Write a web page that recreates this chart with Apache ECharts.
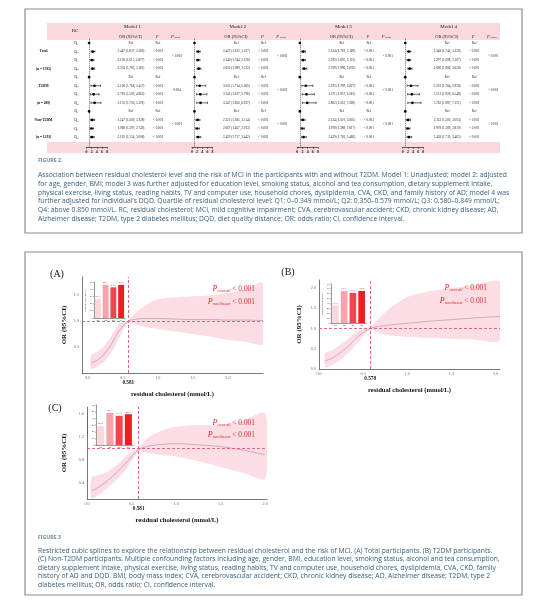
<!DOCTYPE html>
<html>
<head>
<meta charset="utf-8">
<title>Residual cholesterol and MCI</title>
<script src="https://cdn.jsdelivr.net/npm/echarts@6.0.0/dist/echarts.min.js"></script>
<style>
  html, body { margin: 0; padding: 0; background: #fff; }
  #chart { width: 540px; height: 605px; }
</style>
</head>
<body>
<div id="chart"></div>
<script>
// ---------- Figure 2 : forest plot ----------
var groupNames = ['Total', 'T2DM', 'Non-T2DM'];
var groupSizes = ['(n = 1782)', '(n = 489)', '(n = 1293)'];
var quartiles = ['1', '2', '3', '4'];
var modelNames = ['Model 1', 'Model 2', 'Model 3', 'Model 4'];
var forestTicks = [0, 2, 4, 6, 8];

// rows: Total Q1-Q4, T2DM Q1-Q4, Non-T2DM Q1-Q4 (Q1 is the reference)
var m1OR = [1, 2.447, 2.156, 2.374, 1, 3.106, 2.783, 3.133, 1, 2.247, 1.968, 2.162];
var m1Lo = [1, 1.837, 1.615, 1.783, 1, 1.768, 1.592, 1.756, 1, 1.609, 1.397, 1.554];
var m1Hi = [1, 3.260, 2.877, 3.161, 1, 5.457, 4.865, 5.591, 1, 3.138, 2.749, 3.008];
var m2OR = [1, 2.422, 2.340, 2.650, 1, 3.031, 3.245, 3.347, 1, 2.221, 2.067, 2.459];
var m2Lo = [1, 1.812, 1.744, 1.989, 1, 1.714, 1.817, 1.856, 1, 1.585, 1.467, 1.757];
var m2Hi = [1, 3.237, 3.138, 3.532, 1, 5.360, 5.796, 6.037, 1, 3.114, 2.913, 3.442];
var m3OR = [1, 2.334, 2.293, 2.709, 1, 3.293, 3.571, 3.862, 1, 2.124, 1.978, 2.439];
var m3Lo = [1, 1.718, 1.695, 1.996, 1, 1.799, 1.937, 2.052, 1, 1.501, 1.388, 1.716];
var m3Hi = [1, 3.169, 3.101, 3.676, 1, 6.027, 6.581, 7.269, 1, 3.005, 2.817, 3.466];
var m4OR = [1, 2.346, 2.297, 2.696, 1, 3.233, 3.551, 3.762, 1, 2.123, 1.978, 2.438];
var m4Lo = [1, 1.742, 1.698, 1.986, 1, 1.764, 1.926, 1.987, 1, 1.500, 1.389, 1.715];
var m4Hi = [1, 3.159, 3.107, 3.658, 1, 5.928, 6.548, 7.121, 1, 3.003, 2.819, 3.465];
var pRow = ['Ref', '< 0.001', '< 0.001', '< 0.001', 'Ref', '< 0.001', '< 0.001', '< 0.001', 'Ref', '< 0.001', '< 0.001', '< 0.001'];
var m1Trend = ['< 0.001', '0.004', '< 0.001'];
var m2Trend = ['< 0.001', '< 0.001', '< 0.001'];
var m3Trend = ['< 0.001', '< 0.001', '< 0.001'];
var m4Trend = ['< 0.001', '< 0.001', '< 0.001'];

// ---------- Figure 3 : restricted cubic splines ----------
// (A) total
var rcA = [0.05, 0.15, 0.25, 0.35, 0.45, 0.581, 0.7, 0.85, 1.0, 1.25, 1.5, 1.75, 2.0, 2.25, 2.5];
var orA = [0.19, 0.26, 0.38, 0.58, 0.82, 1.00, 1.04, 1.05, 1.05, 1.04, 1.03, 1.03, 1.02, 1.02, 1.01];
var loA = [0.08, 0.13, 0.24, 0.42, 0.68, 0.98, 0.93, 0.88, 0.85, 0.80, 0.75, 0.70, 0.64, 0.60, 0.56];
var hiA = [0.34, 0.42, 0.54, 0.74, 0.95, 1.02, 1.18, 1.33, 1.42, 1.46, 1.48, 1.50, 1.54, 1.62, 1.74];
var cutA = 0.581;
var prevA = [26.3, 46.1, 42.6, 45.9];
var xTicksA = [0, 0.5, 1.0, 1.5, 2.0];
var yTicksA = [0.5, 1.0, 1.5];
// (B) T2DM
var rcB = [0.07, 0.15, 0.25, 0.35, 0.45, 0.578, 0.7, 0.85, 1.0, 1.25, 1.5, 1.75, 2.05];
var orB = [0.20, 0.27, 0.42, 0.60, 0.82, 1.00, 1.06, 1.10, 1.13, 1.18, 1.22, 1.26, 1.30];
var loB = [0.04, 0.10, 0.24, 0.43, 0.68, 0.97, 0.88, 0.82, 0.80, 0.77, 0.74, 0.73, 0.71];
var hiB = [0.40, 0.46, 0.62, 0.78, 0.95, 1.03, 1.30, 1.58, 1.78, 1.92, 2.00, 2.07, 2.15];
var cutB = 0.578;
var prevB = [35.9, 65.3, 61.5, 65.8];
var xTicksB = [0, 0.5, 1.0, 1.5, 2.0];
var yTicksB = [0, 0.5, 1.0, 1.5, 2.0];
// (C) non-T2DM
var rcC = [0.05, 0.15, 0.25, 0.35, 0.45, 0.581, 0.7, 0.85, 1.0, 1.25, 1.5, 1.75, 2.0];
var orC = [0.27, 0.35, 0.47, 0.61, 0.77, 0.98, 1.04, 1.07, 1.08, 1.06, 1.03, 0.97, 0.89];
var loC = [0.14, 0.22, 0.35, 0.49, 0.66, 0.94, 0.92, 0.88, 0.86, 0.78, 0.68, 0.58, 0.48];
var hiC = [0.49, 0.55, 0.62, 0.73, 0.88, 1.02, 1.20, 1.31, 1.37, 1.40, 1.40, 1.48, 1.60];
var cutC = 0.581;
var prevC = [28.2, 48.3, 43.8, 46.1];
var xTicksC = [0, 0.5, 1.0, 1.5, 2.0];
var yTicksC = [0.4, 0.8, 1.2, 1.6];
var insetCats = ['Q1', 'Q2', 'Q3', 'Q4'];

var SERIF = '"Liberation Serif", "DejaVu Serif", serif';
var SANS = '"Open Sans", "Noto Sans", sans-serif';
var RED = '#e3262f';
var PINK = '#f9d8de';
var barColors = ['#fbd6da', '#f6a3a9', '#f1444c', '#ee1c1e'];

var chart = echarts.init(document.getElementById('chart'));

// x pixel of the "0" of each small forest axis
var forestLeft = [86.5, 191.9, 297.3, 402.7];

function forestSeries(k, OR, LO, HI, trend) {
  return {
    type: 'custom',
    xAxisIndex: k,
    yAxisIndex: k,
    clip: false,
    encode: { x: 0, y: 1 },
    data: OR.map(function (v, i) { return [v, i, LO[i], HI[i]]; }),
    markLine: {
      silent: true, symbol: 'none', label: { show: false },
      lineStyle: { color: '#000', type: [1, 1], width: 0.6 },
      data: [{ xAxis: 1 }]
    },
    renderItem: function (params, api) {
      var i = api.value(1);
      var p = api.coord([api.value(0), i]);
      var a = api.coord([api.value(2), i]);
      var b = api.coord([api.value(3), i]);
      var x0 = api.coord([0, i])[0];
      var ref = i % 4 === 0;
      var kids = [];
      if (!ref) {
        var ln = { stroke: '#000', lineWidth: 0.6 };
        kids.push({ type: 'line', shape: { x1: a[0], y1: a[1], x2: b[0], y2: b[1] }, style: ln });
        kids.push({ type: 'line', shape: { x1: a[0], y1: a[1] - 1.1, x2: a[0], y2: a[1] + 1.1 }, style: ln });
        kids.push({ type: 'line', shape: { x1: b[0], y1: b[1] - 1.1, x2: b[0], y2: b[1] + 1.1 }, style: ln });
      }
      kids.push({ type: 'circle', shape: { cx: p[0], cy: p[1], r: 1.35 }, style: { fill: '#000' } });
      var orTxt = ref ? 'Ref' : api.value(0).toFixed(3) + ' (' + api.value(2).toFixed(3) + ', ' + api.value(3).toFixed(3) + ')';
      var txt = { align: 'center', verticalAlign: 'middle', fontFamily: SERIF, fontSize: 3.3, fill: '#222' };
      kids.push({ type: 'text', style: echarts.util.extend({ text: orTxt, x: x0 + 44.5, y: p[1] }, txt) });
      kids.push({ type: 'text', style: echarts.util.extend({ text: pRow[i], x: x0 + 71.5, y: p[1] }, txt) });
      if (i % 4 === 1) {
        var mid = api.coord([0, i + 0.5])[1];
        kids.push({ type: 'text', style: echarts.util.extend({ text: trend[(i - 1) / 4], x: x0 + 90.5, y: mid }, txt) });
      }
      if (k === 0) {
        kids.push({ type: 'text', style: {
          text: '{q|Q}{s|' + quartiles[i % 4] + '}', x: x0 - 10, y: p[1], align: 'center', verticalAlign: 'middle',
          rich: { q: { fontFamily: SERIF, fontSize: 4.2, fill: '#222' }, s: { fontFamily: SERIF, fontSize: 2.6, fill: '#222', padding: [2, 0, 0, 0] } }
        } });
        var bold = { align: 'center', verticalAlign: 'middle', fontFamily: SERIF, fontSize: 3.6, fontWeight: 'bold', fill: '#111' };
        if (i % 4 === 1) {
          kids.push({ type: 'text', style: echarts.util.extend({ text: groupNames[(i - 1) / 4], x: x0 - 43, y: p[1] }, bold) });
        }
        if (i % 4 === 3) {
          kids.push({ type: 'text', style: echarts.util.extend({ text: groupSizes[(i - 3) / 4], x: x0 - 43, y: p[1] }, bold) });
        }
      }
      return { type: 'group', children: kids };
    }
  };
}

function pick(list) {
  return function (v) {
    for (var i = 0; i < list.length; i++) {
      if (Math.abs(list[i] - v) < 1e-6) return list[i].toFixed(1);
    }
    return '';
  };
}

function splineX(g, min, max, step, ticks) {
  return {
    gridIndex: g, type: 'value', min: min, max: max, interval: step,
    axisLine: { onZero: false, lineStyle: { color: '#555', width: 0.8 } },
    axisTick: { show: false }, splitLine: { show: false },
    axisLabel: { fontSize: 4.2, color: '#666', fontFamily: SERIF, margin: 3, formatter: pick(ticks) },
    name: 'residual cholesterol (mmol/L)', nameLocation: 'middle', nameGap: 18,
    nameTextStyle: { fontFamily: SERIF, fontWeight: 'bold', fontSize: 6.6, color: '#111' }
  };
}
function splineY(g, min, max, step, ticks, gap) {
  return {
    gridIndex: g, type: 'value', min: min, max: max, interval: step,
    axisLine: { show: true, onZero: false, lineStyle: { color: '#555', width: 0.8 } },
    axisTick: { show: false }, splitLine: { show: false },
    axisLabel: { fontSize: 4.2, color: '#666', fontFamily: SERIF, margin: 3, formatter: pick(ticks) },
    name: 'OR (95%CI)', nameLocation: 'middle', nameGap: gap,
    nameTextStyle: { fontFamily: SERIF, fontWeight: 'bold', fontSize: 7, color: '#111' }
  };
}
function splineSeries(ax, rc, or, lo, hi, cut, cutLabel) {
  return [
    // confidence band: one polygon, upper edge then lower edge, through the axis scales
    { type: 'custom', xAxisIndex: ax, yAxisIndex: ax, silent: true, clip: true,
      encode: { x: 0, y: [1, 2] },
      data: rc.map(function (x, i) { return [x, lo[i], hi[i]]; }),
      renderItem: function (params, api) {
        if (params.dataIndex !== 0) return null;
        var pts = [];
        for (var i = 0; i < rc.length; i++) pts.push(api.coord([rc[i], hi[i]]));
        for (var j = rc.length - 1; j >= 0; j--) pts.push(api.coord([rc[j], lo[j]]));
        return { type: 'polygon', shape: { points: pts, smooth: 0.25 }, style: { fill: '#fbdde3' } };
      } },
    { type: 'line', xAxisIndex: ax, yAxisIndex: ax, smooth: 0.3, symbol: 'none', silent: true,
      lineStyle: { color: '#c39ab3', width: 0.8 },
      data: rc.map(function (x, i) { return [x, or[i]]; }),
      markLine: {
        silent: true, symbol: 'none',
        lineStyle: { color: '#e0647b', type: [3, 2], width: 1 },
        data: [
          { yAxis: 1, label: { show: false } },
          { xAxis: cut, label: { show: true, position: 'start', formatter: cutLabel, distance: 7,
            fontFamily: SERIF, fontWeight: 'bold', fontSize: 5.2, color: '#111' } }
        ]
      } }
  ];
}
function insetX(g) {
  return {
    gridIndex: g, type: 'category', data: insetCats,
    axisLine: { lineStyle: { color: '#333', width: 0.5 } },
    axisTick: { length: 1, lineStyle: { width: 0.4 } },
    axisLabel: { fontSize: 2, margin: 1.5, color: '#333' }
  };
}
function insetY(g, max, step) {
  return {
    gridIndex: g, type: 'value', min: 0, max: max, interval: step,
    axisLine: { show: true, lineStyle: { color: '#333', width: 0.5 } },
    axisTick: { show: true, length: 1, lineStyle: { width: 0.4 } },
    splitLine: { show: false },
    axisLabel: { fontSize: 2.2, margin: 1.5, color: '#333' },
    name: 'Prevalence of MCI (%)', nameLocation: 'middle', nameGap: 5,
    nameTextStyle: { fontSize: 2.3, color: '#333' }
  };
}
function insetBars(ax, vals) {
  return {
    type: 'bar', xAxisIndex: ax, yAxisIndex: ax, barWidth: '76%', silent: true, z: 5,
    data: vals.map(function (v, i) { return { value: v, itemStyle: { color: barColors[i] } }; }),
    label: { show: true, position: 'top', distance: 1, fontSize: 2.9, color: RED, fontFamily: SERIF,
      formatter: function (p) { return p.value.toFixed(1); } }
  };
}

var grids = forestLeft.map(function (l) {
  return { left: l, top: 38.7, width: 20.6, height: 108.6, outerBoundsMode: 'none' };
});
grids.push({ left: 82, top: 277, width: 181, height: 96, outerBoundsMode: 'none' });
grids.push({ left: 319, top: 280, width: 181, height: 89, outerBoundsMode: 'none' });
grids.push({ left: 87, top: 407, width: 180, height: 92, outerBoundsMode: 'none' });
grids.push({ left: 94, top: 282, width: 31, height: 36, outerBoundsMode: 'none' });
grids.push({ left: 331, top: 284, width: 35, height: 39, outerBoundsMode: 'none' });
grids.push({ left: 96, top: 405, width: 37, height: 40, outerBoundsMode: 'none' });

var xAxes = forestLeft.map(function (l, k) {
  return {
    gridIndex: k, type: 'value', min: 0, max: 8, interval: 2,
    axisLine: { onZero: false, lineStyle: { color: '#000', width: 0.6 } },
    axisTick: { length: 1.5, lineStyle: { width: 0.5, color: '#000' } },
    splitLine: { show: false },
    axisLabel: { fontSize: 3.8, fontWeight: 'bold', fontFamily: SERIF, color: '#111', margin: 2.5,
      formatter: function (v) { return forestTicks.indexOf(v) >= 0 ? String(v) : ''; } }
  };
});
var yAxes = forestLeft.map(function (l, k) {
  return { gridIndex: k, type: 'value', inverse: true, min: -0.5, max: 12.2, show: false };
});
xAxes.push(splineX(4, -0.08, 2.5, 0.02, xTicksA));
xAxes.push(splineX(5, 0, 2.05, 0.05, xTicksB));
xAxes.push(splineX(6, 0, 2.02, 0.01, xTicksC));
yAxes.push(splineY(4, 0, 1.85, 0.05, yTicksA, 14));
yAxes.push(splineY(5, 0, 2.2, 0.1, yTicksB, 16));
yAxes.push(splineY(6, 0.13, 1.71, 0.01, yTicksC, 19));
xAxes.push(insetX(7), insetX(8), insetX(9));
yAxes.push(insetY(7, 50, 10), insetY(8, 80, 10), insetY(9, 60, 10));

var series = [
  forestSeries(0, m1OR, m1Lo, m1Hi, m1Trend),
  forestSeries(1, m2OR, m2Lo, m2Hi, m2Trend),
  forestSeries(2, m3OR, m3Lo, m3Hi, m3Trend),
  forestSeries(3, m4OR, m4Lo, m4Hi, m4Trend)
]
  .concat(splineSeries(4, rcA, orA, loA, hiA, cutA, '0.581'))
  .concat(splineSeries(5, rcB, orB, loB, hiB, cutB, '0.578'))
  .concat(splineSeries(6, rcC, orC, loC, hiC, cutC, '0.581'))
  .concat([insetBars(7, prevA), insetBars(8, prevB), insetBars(9, prevC)]);

// ---------- captions and frames ----------
var cap2 = [
  'Association between residual cholesterol level and the risk of MCI in the participants with and without T2DM. Model 1: Unadjusted; model 2: adjusted',
  'for age, gender, BMI; model 3 was further adjusted for education level, smoking status, alcohol and tea consumption, dietary supplement intake,',
  'physical exercise, living status, reading habits, TV and computer use, household chores, dyslipidemia, CVA, CKD, and family history of AD; model 4 was',
  'further adjusted for individual\u2019s DQD. Quartile of residual cholesterol level: Q1: 0\u20130.349 mmol/L; Q2: 0.350\u20130.579 mmol/L; Q3: 0.580\u20130.849 mmol/L;',
  'Q4: above 0.850 mmol/L. RC, residual cholesterol; MCI, mild cognitive impairment; CVA, cerebrovascular accident; CKD, chronic kidney disease; AD,',
  'Alzheimer disease; T2DM, type 2 diabetes mellitus; DQD, diet quality distance; OR: odds ratio; CI, confidence interval.'
];
var cap3 = [
  'Restricted cubic splines to explore the relationship between residual cholesterol and the risk of MCI. (A) Total participants. (B) T2DM participants.',
  '(C) Non-T2DM participants. Multiple confounding factors including age, gender, BMI, education level, smoking status, alcohol and tea consumption,',
  'dietary supplement intake, physical exercise, living status, reading habits, TV and computer use, household chores, dyslipidemia, CVA, CKD, family',
  'history of AD and DQD. BMI, body mass index; CVA, cerebrovascular accident; CKD, chronic kidney disease; AD, Alzheimer disease; T2DM, type 2',
  'diabetes mellitus; OR, odds ratio; CI, confidence interval.'
];

// size the caption font so the first line spans the same width as in the figure
var measure = document.createElement('canvas').getContext('2d');
measure.font = '10px ' + SANS;
var capSize = 10 * 470 / measure.measureText(cap2[0]).width;

var g = [];
g.push({ type: 'rect', shape: { x: 25, y: 9, width: 497, height: 224 }, style: { fill: 'none', stroke: '#8c8c8c', lineWidth: 1.2 } });
g.push({ type: 'rect', shape: { x: 25, y: 252, width: 497, height: 343 }, style: { fill: 'none', stroke: '#8c8c8c', lineWidth: 1.2 } });
g.push({ type: 'rect', shape: { x: 47, y: 23, width: 453, height: 17 }, style: { fill: PINK } });
g.push({ type: 'rect', shape: { x: 47, y: 142, width: 453, height: 11 }, style: { fill: PINK } });
g.push({ type: 'text', x: 75, y: 31, style: { text: 'RC', fontFamily: SERIF, fontSize: 5, fill: '#222', align: 'center', verticalAlign: 'middle' } });
forestLeft.forEach(function (x0, k) {
  var hdr = { fontFamily: SERIF, fill: '#222', align: 'center', verticalAlign: 'middle' };
  g.push({ type: 'text', x: x0 + 46, y: 26.5, style: echarts.util.extend({ text: modelNames[k], fontSize: 5 }, hdr) });
  g.push({ type: 'text', x: x0 + 44, y: 36.5, style: echarts.util.extend({ text: 'OR (95%CI)', fontSize: 4.5 }, hdr) });
  g.push({ type: 'text', x: x0 + 70.5, y: 36.5, style: echarts.util.extend({ text: 'P', fontSize: 4.5, fontStyle: 'italic' }, hdr) });
  g.push({ type: 'text', x: x0 + 89, y: 36.5, style: {
    text: '{p|P}{s| trend}', align: 'center', verticalAlign: 'middle',
    rich: { p: { fontFamily: SERIF, fontStyle: 'italic', fontSize: 4.5, fill: '#222' },
            s: { fontFamily: SERIF, fontStyle: 'italic', fontSize: 2.8, fill: '#222', padding: [2, 0, 0, 0] } } } });
});
g.push({ type: 'text', x: 38, y: 161, style: { text: 'FIGURE 2', fontFamily: SANS, fontSize: 5.2, fontWeight: 'bold', fill: '#6a8599', verticalAlign: 'middle' } });
cap2.forEach(function (t, i) {
  g.push({ type: 'text', x: 38, y: 175 + i * 8.8, style: { text: t, fontFamily: SANS, fontSize: capSize, fill: '#365c7c', verticalAlign: 'middle' } });
});
g.push({ type: 'text', x: 38, y: 538, style: { text: 'FIGURE 3', fontFamily: SANS, fontSize: 5.2, fontWeight: 'bold', fill: '#6a8599', verticalAlign: 'middle' } });
cap3.forEach(function (t, i) {
  g.push({ type: 'text', x: 38, y: 551 + i * 8.4, style: { text: t, fontFamily: SANS, fontSize: capSize, fill: '#365c7c', verticalAlign: 'middle' } });
});
[['(A)', 57, 274], ['(B)', 288, 272], ['(C)', 55, 408]].forEach(function (p) {
  g.push({ type: 'text', x: p[1], y: p[2], z: 50, style: { text: p[0], fontFamily: SERIF, fontSize: 10, fill: '#111', align: 'center', verticalAlign: 'middle' } });
});
function pText(x, y, sub) {
  return { type: 'text', x: x, y: y, z: 50, style: {
    text: '{p|P}{s|' + sub + '}{v| < 0.001}', align: 'right', verticalAlign: 'middle',
    rich: {
      p: { fontFamily: SERIF, fontStyle: 'italic', fontSize: 8, fill: RED },
      s: { fontFamily: SERIF, fontStyle: 'italic', fontSize: 4.6, fill: RED, padding: [4, 0, 0, 0] },
      v: { fontFamily: SERIF, fontSize: 7.4, fill: RED }
    } } };
}
g.push(pText(255, 289, 'overall'), pText(255, 302, 'nonlinear'));
g.push(pText(487, 288, 'overall'), pText(487, 301, 'nonlinear'));
g.push(pText(255, 423, 'overall'), pText(255, 435, 'nonlinear'));

chart.setOption({
  animation: false,
  backgroundColor: '#fff',
  grid: grids,
  xAxis: xAxes,
  yAxis: yAxes,
  series: series,
  graphic: { elements: g }
});
</script>
</body>
</html>
